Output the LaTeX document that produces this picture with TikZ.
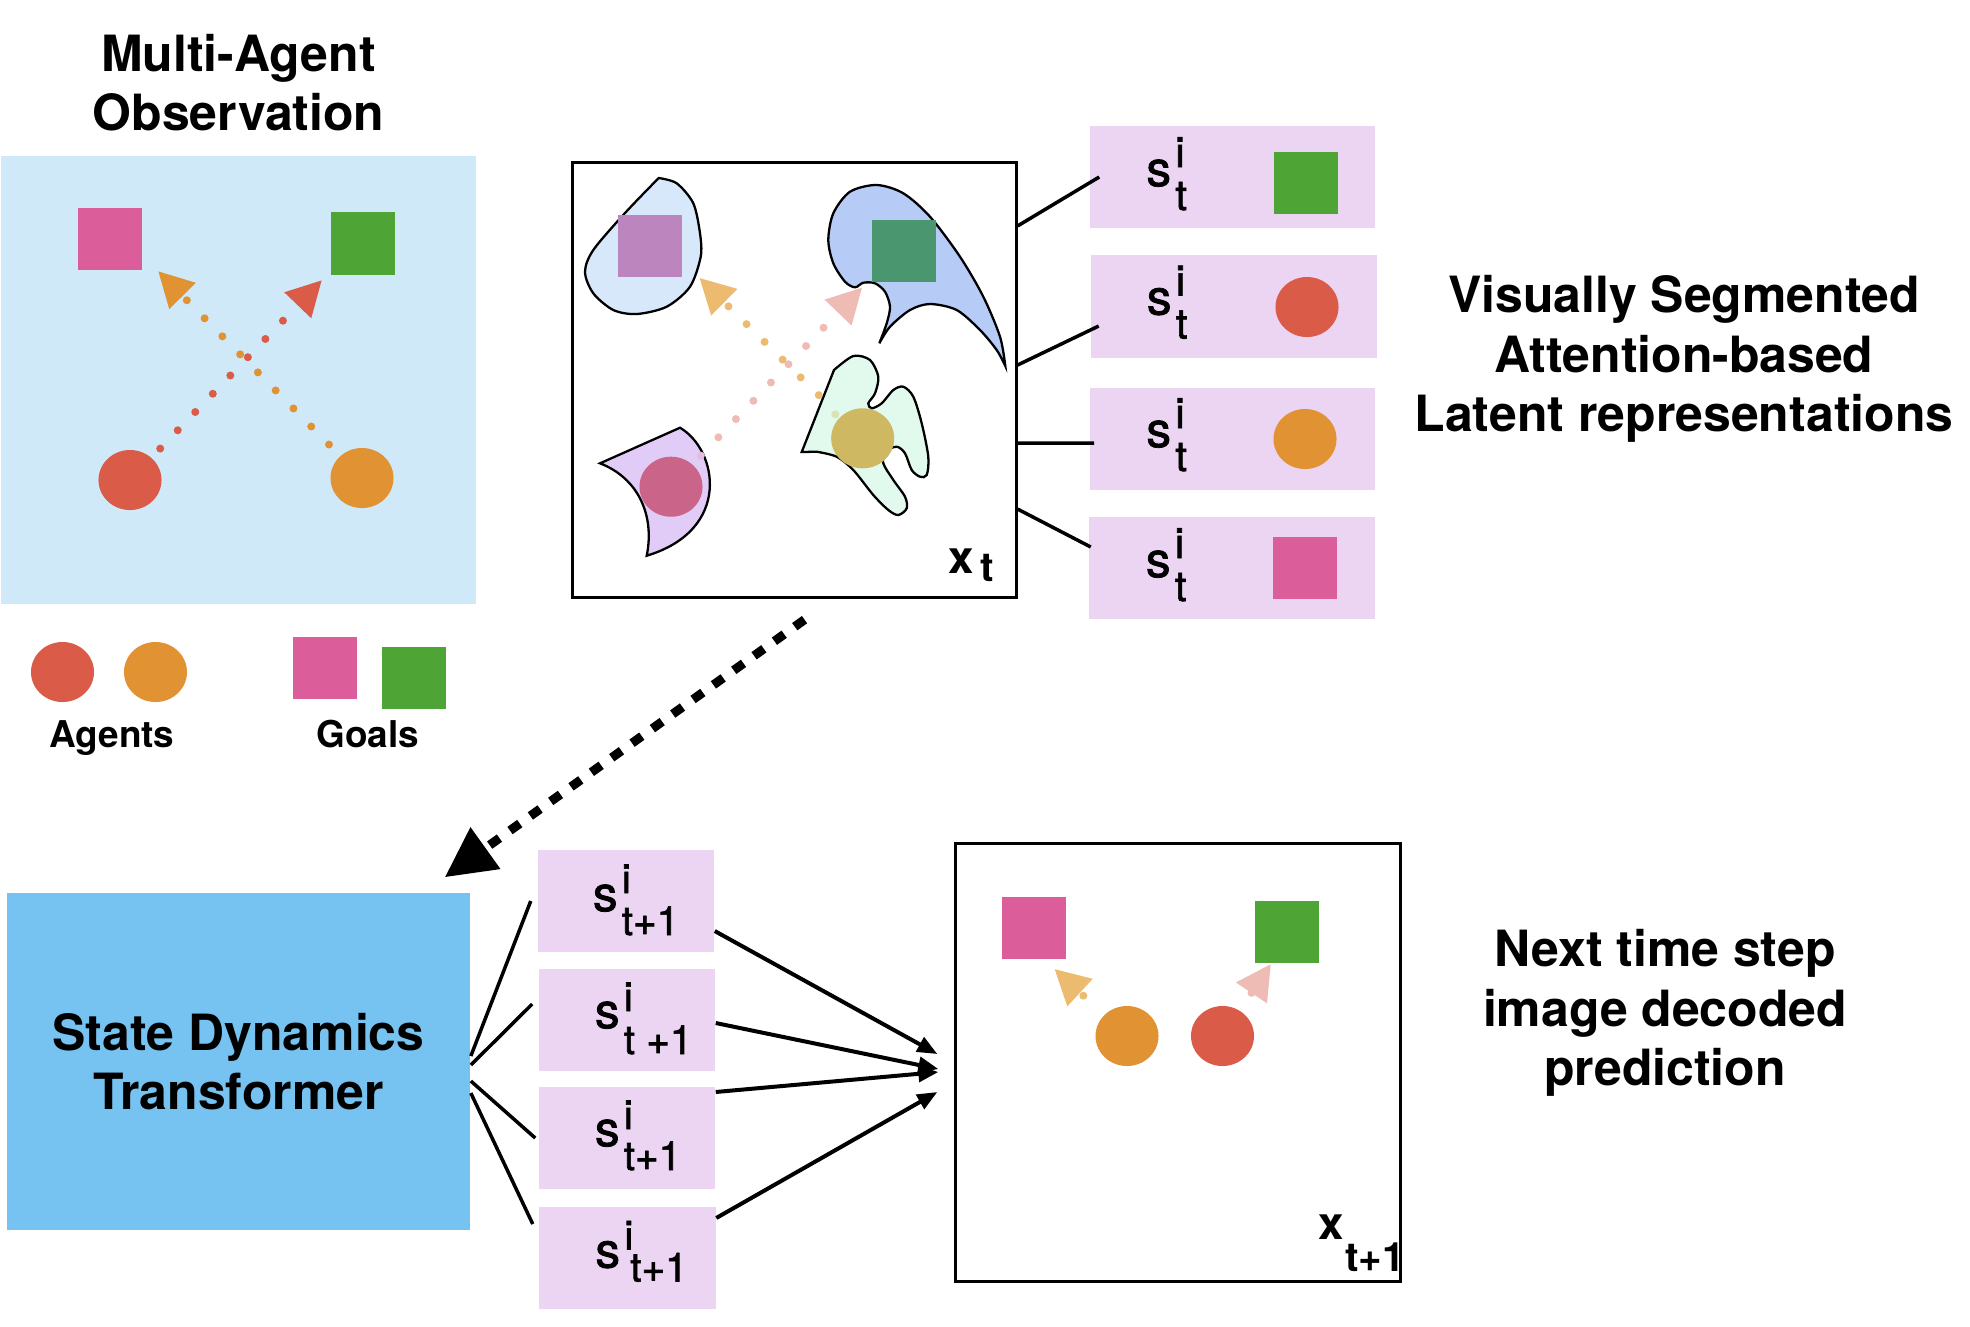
\documentclass[tikz,border=0pt]{standalone}
\usepackage{fontspec}
\setmainfont{TeX Gyre Heros}
\newfontfamily\medfont[FakeBold=1.6]{TeX Gyre Heros}
\usepackage{xcolor}
\usetikzlibrary{positioning,shapes.geometric,arrows.meta}

\definecolor{obsbg}{HTML}{D0E9F8}
\definecolor{sdtblue}{HTML}{76C2F0}
\definecolor{latbg}{HTML}{EBD5F2}
\definecolor{goalpink}{HTML}{DB5E9B}
\definecolor{goalgreen}{HTML}{4EA535}
\definecolor{agred}{HTML}{DA5B48}
\definecolor{agorange}{HTML}{E19233}
\definecolor{blobsky}{HTML}{D6E8FA}
\definecolor{blobblue}{HTML}{B7CBF7}
\definecolor{blobviolet}{HTML}{E1CBF7}
\definecolor{blobmint}{HTML}{E2F9EE}
\definecolor{mixpink}{HTML}{BD85BE}
\definecolor{mixgreen}{HTML}{4A966F}
\definecolor{mixred}{HTML}{CA6488}
\definecolor{mixolive}{HTML}{CFB862}
\definecolor{paleorange}{HTML}{EDBB70}
\definecolor{palepink}{HTML}{EEBBB5}
\definecolor{faintolive}{HTML}{D8E4B8}
\definecolor{faintpink}{HTML}{E4BCE2}

% s^i_t label: size, subscript, raise of i, raise of subscript
\newcommand{\latent}[4]{s\kern1.2pt\rlap{\raisebox{#3}{\fontsize{#1}{#1}\selectfont i}}\raisebox{#4}{\fontsize{#1}{#1}\selectfont #2}}

\tikzset{
  head/.style={font=\bfseries\fontsize{14.2}{16.8}\selectfont, align=center, inner sep=0pt},
  legend/.style={font=\bfseries\fontsize{10.5}{12}\selectfont, inner sep=0pt},
  slab/.style={font=\medfont\fontsize{14}{14}\selectfont, inner sep=0pt, anchor=base west},
  lat/.style={fill=latbg, minimum width=2.85cm, minimum height=1.02cm, inner sep=0pt},
  latn/.style={lat, minimum width=1.76cm},
  goal/.style={minimum width=0.64cm, minimum height=0.62cm, inner sep=0pt},
  agent/.style={ellipse, minimum width=0.63cm, minimum height=0.6cm, inner sep=0pt},
  frame/.style={draw, line width=0.03cm, inner sep=0pt},
  blob/.style={draw, line width=0.65pt},
  trail/.style={line width=0.08cm, line cap=round, dash pattern=on 0pt off 0.253cm, -{Triangle[length=0.35cm,width=0.35cm]}},
  link/.style={line width=0.035cm},
  feed/.style={line width=0.04cm, -{Triangle[length=0.2cm,width=0.16cm]}},
  bigdash/.style={line width=0.09cm, dash pattern=on 0.12cm off 0.13cm, -{Triangle[length=0.5cm,width=0.49cm]}}
}

\begin{document}
\begin{tikzpicture}[x=0.01cm,y=-0.01cm]
\useasboundingbox (0,0) rectangle (1970,1326);

% observation panel
\node[fill=obsbg, minimum width=4.75cm, minimum height=4.48cm, inner sep=0pt] (obs) at (238.5,380) {};
\node[head, above=0.23cm of obs] (obstitle) {Multi-Agent\\Observation};
\node[goal, fill=goalpink] (pg) at (110,239) {};
\node[goal, fill=goalgreen] (gg) at (363,243.5) {};
\node[agent, fill=agred] (ra) at (130,480) {};
\node[agent, fill=agorange] (oa) at (362,478) {};
\coordinate (otip) at (158,271);
\coordinate (rtip) at (322,280);
\draw[trail, agorange, shorten <=0.47cm] (oa.center) -- (otip);
\draw[trail, agred, shorten <=0.436cm] (ra.center) -- (rtip);

% legend
\node[agent, fill=agred] (lra) at (62.5,672) {};
\node[agent, fill=agorange] (loa) at (155.5,672) {};
\node[goal, fill=goalpink] (lpg) at (325,668) {};
\node[goal, fill=goalgreen] (lgg) at (414,678) {};
\node[legend, anchor=base] (agtxt) at (112,747) {Agents};
\node[legend, anchor=base] (goaltxt) at (368,747) {Goals};

% observation x_t with segments
\node[frame, minimum width=4.43cm, minimum height=4.34cm] (xt) at (794.5,380) {};
\filldraw[blob, fill=blobsky] plot[smooth] coordinates {(658.7,178) (625,213) (593.3,250) (585,272) (593.3,293.3) (613.3,310) (636.7,314) (666.7,306.7) (690,286.7) (700.7,256.7) (700,233.3) (693.3,203.3) (676.7,183.3) (658.7,178)} -- cycle;
\filldraw[blob, fill=blobblue] plot[smooth] coordinates {(879.3,343.3) (890,326.7) (910,310) (930,304) (956.7,310) (980,330) (996.7,350) (1005.3,366)}
  -- plot[smooth] coordinates {(1005.3,366) (1000,336.7) (983.3,296.7) (960,256.7) (930,216.7) (903.3,193.3) (876.7,185) (850,191.7) (833.3,213.3) (828.3,240) (833.3,263.3) (845,281.7) (855,287.3) (863.3,282.7) (875,283.3) (885,291.7) (890,306.7) (886.7,323.3) (879.3,343.3)} -- cycle;
\filldraw[blob, fill=blobviolet] (600,463.3) -- (680,427.7) .. controls (718,450) and (732,530) .. (646.7,555.7) .. controls (655,515) and (638,478) .. cycle;
\filldraw[blob, fill=blobmint] (801.7,452) -- plot[smooth] coordinates {(834,370) (853.3,356) (870,360) (878.3,376.7) (875,393.3) (868.3,403.3) (871.7,408.3) (881.7,403.3) (893.3,390) (903.3,386.7) (913.3,396.7) (921.7,423.3) (928.3,456.7) (926.7,475) (920,476.7) (911.7,470) (905,453.3) (896.7,446.7) (885,451.7) (883.3,463.3) (893.3,480) (905,496.7) (906.7,508.3) (898.3,515) (888.3,510) (873.3,495) (853.3,470) (836.7,456.7) (816.7,451.7)} -- cycle;
\node[goal, fill=mixpink] (xpg) at (650,246) {};
\node[goal, fill=mixgreen] (xgg) at (904,251) {};
\node[agent, fill=mixred] (xra) at (671,486.7) {};
\node[agent, fill=mixolive] (xoa) at (862.7,438.3) {};
\coordinate (xotip) at (699.3,277.7);
\coordinate (xptip) at (862.3,287.3);
\draw[trail, paleorange, shorten <=0.616cm] (xoa.center) -- (xotip);
\draw[trail, palepink, shorten <=0.684cm] (xra.center) -- (xptip);
\fill[faintolive] (835.3,414.3) circle (4);
\fill[faintpink] (700.8,455.6) circle (4);
\node[anchor=base west, font=\bfseries\fontsize{13}{13}\selectfont, inner sep=0pt] (xtl) at ([xshift=-0.7cm,yshift=0.253cm]xt.south east) {x\kern2pt\raisebox{-0.083cm}{\fontsize{11.5}{11.5}\selectfont t}};

% latent slots
\node[lat] (z1) at (1232.5,177) {};
\node[lat] (z2) at (1234,306.5) {};
\node[lat] (z3) at (1232.5,439) {};
\node[lat] (z4) at (1232,568) {};
\node[goal, fill=goalgreen] (zg1) at (1306,183) {};
\node[agent, fill=agred] (za2) at (1307,307) {};
\node[agent, fill=agorange] (za3) at (1305,439) {};
\node[goal, fill=goalpink] (zg4) at (1305,568) {};
\node[slab] (zl1) at ([xshift=0.565cm,yshift=-0.09cm]z1.west) {\latent{12}{t}{0.19cm}{-0.24cm}};
\node[slab] (zl2) at ([xshift=0.555cm,yshift=-0.08cm]z2.west) {\latent{12}{t}{0.19cm}{-0.24cm}};
\node[slab] (zl3) at ([xshift=0.565cm,yshift=-0.08cm]z3.west) {\latent{12}{t}{0.19cm}{-0.24cm}};
\node[slab] (zl4) at ([xshift=0.565cm,yshift=-0.09cm]z4.west) {\latent{12}{t}{0.19cm}{-0.24cm}};
\draw[link] ([yshift=1.54cm]xt.east) -- ([xshift=0.1cm]z1.west);
\draw[link] ([yshift=0.15cm]xt.east) -- ([xshift=0.08cm,yshift=-0.195cm]z2.west);
\draw[link] ([yshift=-0.63cm]xt.east) -- ([xshift=0.05cm,yshift=-0.04cm]z3.west);
\draw[link] ([yshift=-1.29cm]xt.east) -- ([xshift=0.02cm,yshift=0.21cm]z4.west);
\node[head, anchor=north] (vsal) at (1684,275) {Visually Segmented\\Attention-based\\Latent representations};

% dynamics
\node[fill=sdtblue, minimum width=4.63cm, minimum height=3.37cm, inner sep=0pt, head] (sdt) at (238.5,1061.5) {State Dynamics\\Transformer};
\draw[bigdash] ([xshift=0.1cm,yshift=-0.21cm]xt.south) -- ([xshift=-0.26cm,yshift=0.15cm]sdt.north east);
\node[latn] (n1) at (626,901) {};
\node[latn] (n2) at (627,1020) {};
\node[latn] (n3) at (627,1138) {};
\node[latn] (n4) at (627.5,1257.5) {};
\node[slab] (nl1) at ([xshift=0.55cm,yshift=-0.1cm]n1.west) {\latent{11.5}{t+1}{0.18cm}{-0.24cm}};
\node[slab] (nl2) at ([xshift=0.56cm,yshift=-0.08cm]n2.west) {\latent{11.5}{t +1}{0.17cm}{-0.26cm}};
\node[slab] (nl3) at ([xshift=0.56cm,yshift=-0.08cm]n3.west) {\latent{11.5}{t+1}{0.17cm}{-0.24cm}};
\node[slab] (nl4) at ([xshift=0.56cm,yshift=-0.1cm]n4.west) {\latent{11.5}{\kern0.06cm t+1}{0.18cm}{-0.14cm}};
\draw[link] ([yshift=0.055cm]sdt.east) -- ([xshift=-0.065cm]n1.west);
\draw[link] ([yshift=-0.035cm]sdt.east) -- ([xshift=-0.06cm,yshift=0.16cm]n2.west);
\draw[link] ([yshift=-0.195cm]sdt.east) -- ([xshift=-0.03cm]n3.west);
\draw[link] ([yshift=-0.315cm]sdt.east) -- ([xshift=-0.06cm,yshift=0.335cm]n4.west);

% prediction x_{t+1}
\node[frame, minimum width=4.44cm, minimum height=4.37cm] (xn) at (1178,1062.5) {};
\node[goal, fill=goalpink] (npg) at (1034,928) {};
\node[goal, fill=goalgreen] (ngg) at (1287,932) {};
\node[agent, fill=agorange] (noa) at (1127,1036) {};
\node[agent, fill=agred] (nra) at (1222.5,1036) {};
\coordinate (notip) at (1054.3,968.8);
\coordinate (nptip) at (1271,963.8);
\draw[trail, paleorange, shorten <=0.594cm] (noa.center) -- (notip);
\draw[trail, palepink, shorten <=0.52cm] (nra.center) -- (nptip);
\node[anchor=base west, font=\bfseries\fontsize{13}{13}\selectfont, inner sep=0pt] (xnl) at ([xshift=-0.842cm,yshift=0.43cm]xn.south east) {x\kern0.5pt\raisebox{-0.32cm}{\fontsize{11.5}{11.5}\selectfont t+1}};
\draw[feed] ([yshift=-0.3cm]n1.east) -- ([xshift=-0.17cm,yshift=0.085cm]xn.west);
\draw[feed] ([yshift=-0.03cm]n2.east) -- ([xshift=-0.16cm,yshift=-0.065cm]xn.west);
\draw[feed] ([yshift=0.46cm]n3.east) -- ([xshift=-0.16cm,yshift=-0.095cm]xn.west);
\draw[feed] ([yshift=0.395cm]n4.east) -- ([xshift=-0.17cm,yshift=-0.295cm]xn.west);
\node[head, anchor=north] (ntsl) at (1665,929) {Next time step\\image decoded\\prediction};

\end{tikzpicture}
\end{document}
